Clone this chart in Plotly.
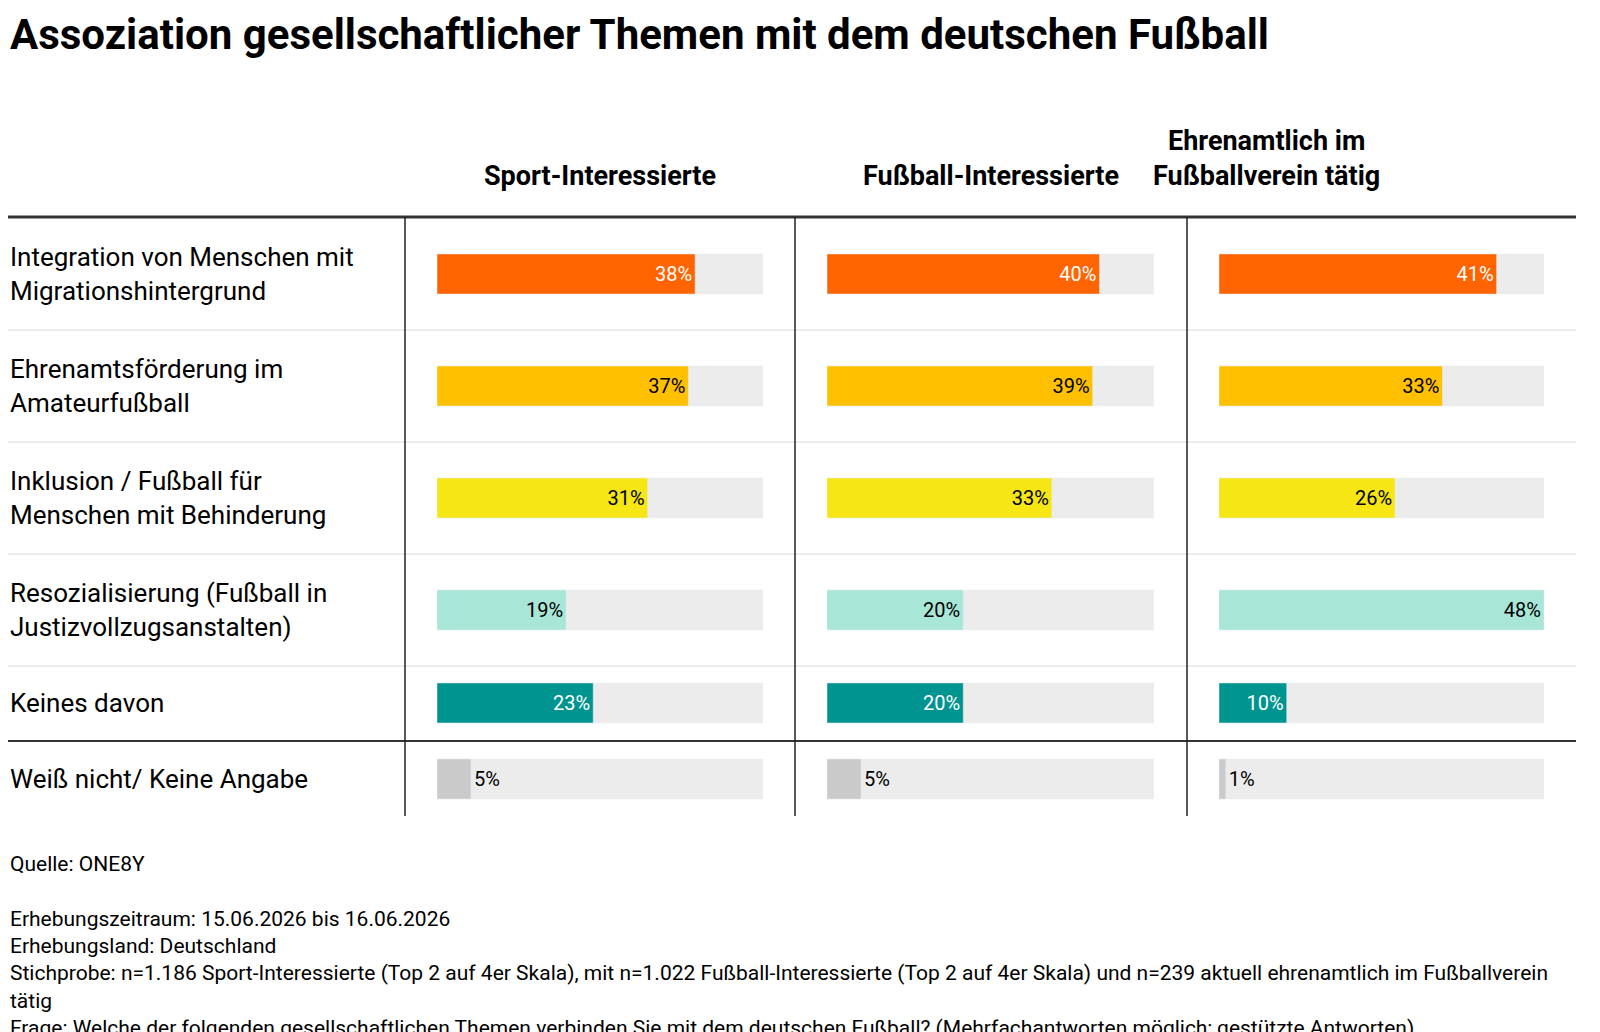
import plotly.graph_objects as go

title = "Assoziation gesellschaftlicher Themen mit dem deutschen Fußball"
groups = ["Sport-Interessierte", "Fußball-Interessierte", "Ehrenamtlich im<br>Fußballverein tätig"]
topics = ["Integration von Menschen mit<br>Migrationshintergrund",
          "Ehrenamtsförderung im<br>Amateurfußball",
          "Inklusion / Fußball für<br>Menschen mit Behinderung",
          "Resozialisierung (Fußball in<br>Justizvollzugsanstalten)",
          "Keines davon",
          "Weiß nicht/ Keine Angabe"]
sport = [38, 37, 31, 19, 23, 5]
fussball = [40, 39, 33, 20, 20, 5]
ehrenamt = [41, 33, 26, 48, 10, 1]
scale_max = 48
colors = ["#ff6400", "#ffc000", "#f5e614", "#a8e6d8", "#009490", "#cacaca"]
text_colors = ["white", "black", "black", "black", "white", "black"]
notes = ["Quelle: ONE8Y", "",
         "Erhebungszeitraum: 15.06.2026 bis 16.06.2026",
         "Erhebungsland: Deutschland",
         "Stichprobe: n=1.186 Sport-Interessierte (Top 2 auf 4er Skala), mit n=1.022 Fußball-Interessierte (Top 2 auf 4er Skala) und n=239 aktuell ehrenamtlich im Fußballverein<br>tätig",
         "Frage: Welche der folgenden gesellschaftlichen Themen verbinden Sie mit dem deutschen Fußball? (Mehrfachantworten möglich; gestützte Antworten)"]

W, H = 1568, 1024
row_y = [266, 378, 490, 602, 695, 771]
col_px = [(429, 755), (819, 1146), (1211, 1536)]
font = "Roboto"

fig = go.Figure()
for ci, vals in enumerate([sport, fussball, ehrenamt]):
    xa = "x" if ci == 0 else f"x{ci+1}"
    fig.add_trace(go.Bar(x=[scale_max]*len(vals), y=row_y, orientation="h", width=40,
                         marker_color="#ececec", xaxis=xa, yaxis="y", hoverinfo="skip", showlegend=False))
    inside = [v >= 8 for v in vals]
    fig.add_trace(go.Bar(
        x=vals, y=row_y, orientation="h", width=40, xaxis=xa, yaxis="y", showlegend=False,
        marker_color=colors,
        text=[f"{v}%" for v in vals],
        textposition=["inside" if i else "outside" for i in inside],
        insidetextanchor="end", cliponaxis=False,
        textfont=dict(family=font, size=20, color=text_colors),
        outsidetextfont=dict(family=font, size=20, color="black"),
        insidetextfont=dict(family=font, size=20, color=text_colors)))
    d0, d1 = col_px[ci]
    fig.layout[("xaxis" if ci == 0 else f"xaxis{ci+1}")] = dict(
        domain=[d0 / W, d1 / W], range=[0, scale_max], visible=False, fixedrange=True)
    fig.add_annotation(x=(d0 + d1) / 2 / W, xref="paper", y=186, yref="y", yanchor="bottom",
                       text=f"<b>{groups[ci]}</b>", showarrow=False,
                       font=dict(family=font, size=27, color="black"))

fig.update_layout(yaxis=dict(range=[H, 0], domain=[0, 1], visible=False, fixedrange=True))

for t, y in zip(topics, row_y):
    fig.add_annotation(x=0, xref="paper", xanchor="left", y=y, yref="y", text=t, align="left",
                       showarrow=False, font=dict(family=font, size=26, color="black"))

fig.add_annotation(x=0, xref="paper", xanchor="left", y=0, yref="y", yanchor="top",
                   text=f"<b>{title}</b>", showarrow=False, font=dict(family=font, size=42, color="black"))

fig.add_annotation(x=0, xref="paper", xanchor="left", y=842, yref="y", yanchor="top",
                   text="<br>".join(notes), align="left", showarrow=False,
                   font=dict(family=font, size=21, color="black"))

shapes = [dict(type="line", xref="paper", yref="y", x0=0, x1=1, y0=209, y1=209, line=dict(color="#333", width=3)),
          dict(type="line", xref="paper", yref="y", x0=0, x1=1, y0=733, y1=733, line=dict(color="#333", width=2))]
for y in [322, 434, 546, 658]:
    shapes.append(dict(type="line", xref="paper", yref="y", x0=0, x1=1, y0=y, y1=y, line=dict(color="#e6e6e6", width=1.5)))
for x in [397, 787, 1179]:
    shapes.append(dict(type="line", xref="paper", yref="y", x0=x / W, x1=x / W, y0=209, y1=808, line=dict(color="#222", width=1.5)))
fig.update_layout(shapes=shapes, barmode="overlay", width=1584, height=H,
                  margin=dict(l=0, r=16, t=0, b=0), plot_bgcolor="white", paper_bgcolor="white",
                  font=dict(family=font), uniformtext=dict(minsize=10))
fig.write_html("out.html")
